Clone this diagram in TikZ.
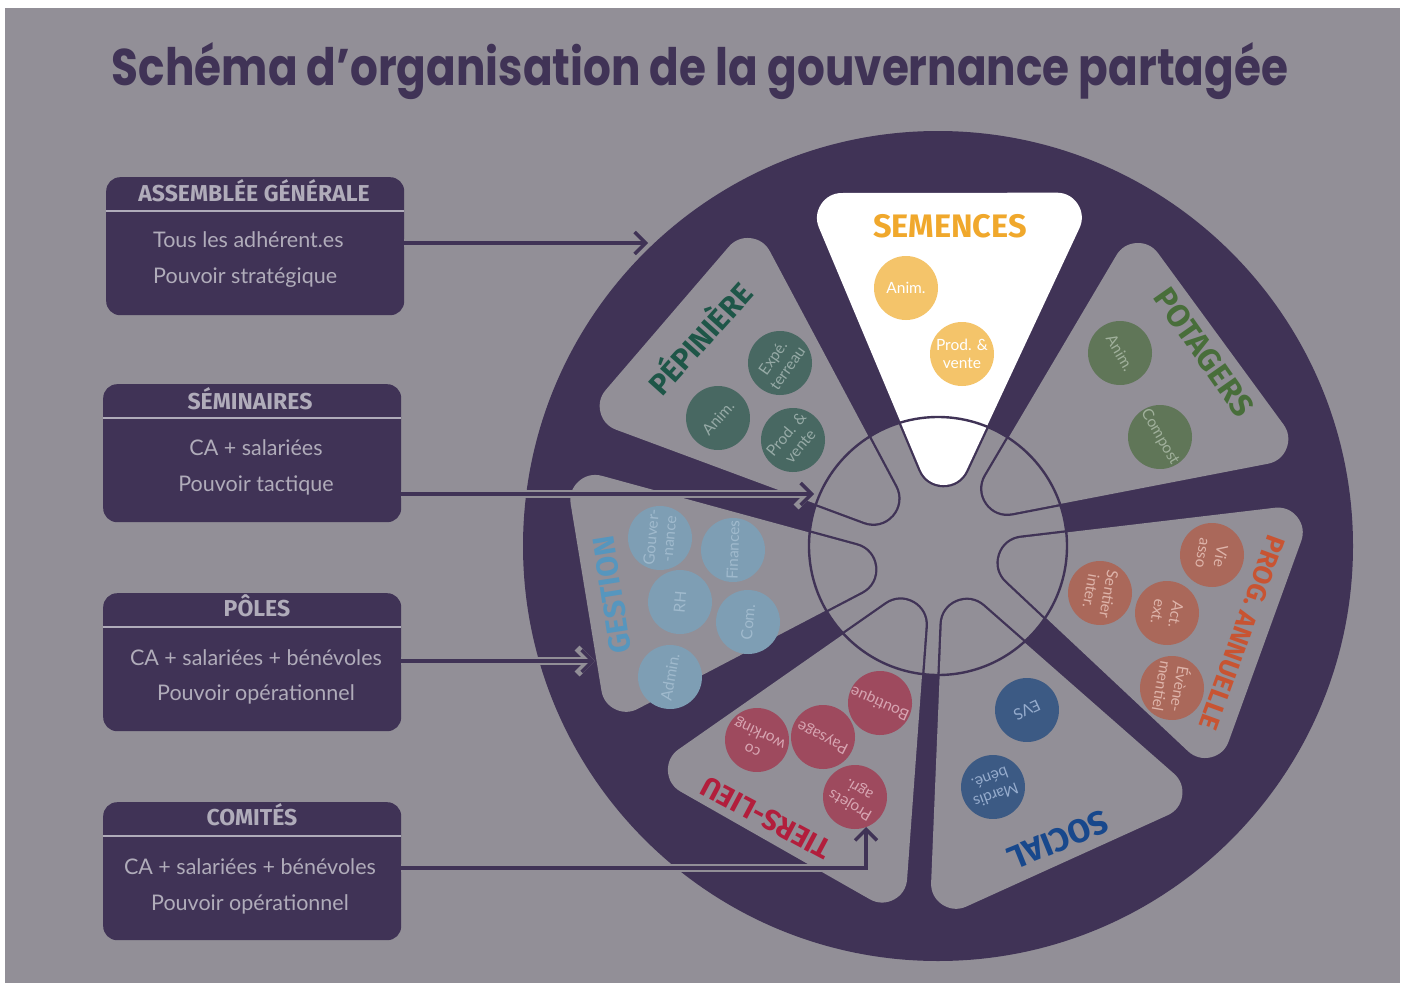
\documentclass[tikz,border=0pt]{standalone}
\usepackage{fontspec}
\usepackage{graphicx}
\usetikzlibrary{calc,arrows.meta}
\newfontfamily\titlefont{Poppins}
\newfontfamily\segfont{Fira Sans}
\newfontfamily\boxfont{Lato}
\definecolor{bggrey}{RGB}{146,143,151}
\definecolor{darkp}{RGB}{64,51,86}
\definecolor{boxtxt}{RGB}{176,172,186}
\definecolor{semT}{RGB}{240,168,44}
\definecolor{semB}{RGB}{244,196,106}
\definecolor{pepT}{RGB}{30,86,72}
\definecolor{pepB}{RGB}{72,104,98}
\definecolor{pepX}{RGB}{150,170,166}
\definecolor{potT}{RGB}{72,110,58}
\definecolor{potB}{RGB}{96,118,88}
\definecolor{potX}{RGB}{160,176,155}
\definecolor{prgT}{RGB}{200,84,50}
\definecolor{prgB}{RGB}{170,104,90}
\definecolor{prgX}{RGB}{222,180,170}
\definecolor{socT}{RGB}{24,72,140}
\definecolor{socB}{RGB}{60,90,132}
\definecolor{socX}{RGB}{150,172,205}
\definecolor{tieT}{RGB}{178,30,60}
\definecolor{tieB}{RGB}{158,74,94}
\definecolor{tieX}{RGB}{215,165,178}
\definecolor{gesT}{RGB}{86,150,190}
\definecolor{gesB}{RGB}{126,158,180}
\definecolor{gesX}{RGB}{160,186,205}
\begin{document}
\begin{tikzpicture}[x=1pt,y=-1pt,
  bub/.style={circle, minimum size=64pt, inner sep=0pt, align=center, font=\boxfont\fontsize{15.5}{18}\selectfont},
  segtitle/.style={inner sep=0pt, font=\segfont\bfseries\fontsize{34}{34}\selectfont},
  govbox/.style={fill=darkp, rounded corners=14pt, minimum width=298pt, minimum height=138pt, anchor=north west, inner sep=0pt},
  boxtitle/.style={text=boxtxt, font=\segfont\bfseries\fontsize{23}{23}\selectfont, anchor=base, inner sep=0pt},
  boxline/.style={text=boxtxt, font=\boxfont\fontsize{21.5}{21.5}\selectfont, anchor=base, inner sep=0pt},
  sepline/.style={draw=boxtxt, line width=1.8pt},
  conn/.style={draw=darkp, line width=3.4pt, -{Straight Barb[length=11pt,width=22pt,line width=3.4pt]},
    preaction={draw=bggrey, line width=8pt, -{Straight Barb[length=13pt,width=26pt,line width=7pt]}}},
]
\useasboundingbox (0,0) rectangle (1406,985);
\fill[white] (0,0) rectangle (1406,985);
\fill[bggrey] (5,8) rectangle (1400,983);

% title
\node[anchor=base, inner sep=0pt, text=darkp] (title) at (700,85)
  {\resizebox{1176pt}{43pt}{\titlefont\bfseries Schéma d’organisation de la gouvernance partagée}};

% boxes
\node[govbox] (b1) at (106,177) {};
\node[govbox] (b2) at (103,384) {};
\node[govbox] (b3) at (103,593) {};
\node[govbox] (b4) at (103,802) {};
\foreach \b in {b1,b2,b3,b4}
  \draw[sepline] ($(\b.north west)+(0,34)$) -- ($(\b.north east)+(0,34)$);

\node[boxtitle] (b1t) at (254,201) {ASSEMBLÉE GÉNÉRALE};
\node[boxline, anchor=base west] (b1a) at (153,247) {Tous les adhérent.es};
\node[boxline, anchor=base west] (b1b) at (153,283) {Pouvoir stratégique};

\node[boxtitle] (b2t) at (250,409) {SÉMINAIRES};
\node[boxline] (b2a) at (256,455) {CA + salariées};
\node[boxline] (b2b) at (256,491) {Pouvoir tactique};

\node[boxtitle] (b3t) at (257,616) {PÔLES};
\node[boxline] (b3a) at (256,665) {CA + salariées + bénévoles};
\node[boxline] (b3b) at (256,700) {Pouvoir opérationnel};

\node[boxtitle] (b4t) at (252,825) {COMITÉS};
\node[boxline] (b4a) at (250,874) {CA + salariées + bénévoles};
\node[boxline] (b4b) at (250,910) {Pouvoir opérationnel};

% wheel
\coordinate (H) at (938,546);
\fill[darkp] (H) circle[radius=415];
\fill[bggrey] (H) circle[radius=129];

\foreach \n/\ax/\ay/\bx/\by/\tx/\ty in {
  sem/822/203/1077/203/943/485,
  pep/748/238/600/410/892/515,
  pot/1138/243/1287/447/987/503,
  prg/1298/518/1212/757/1000/555,
  soc/1182/797/943/905/957/602,
  tie/893/900/668/772/913/603,
  ges/577/483/613/708/875/567}{
  \coordinate (\n-g) at ({(\ax+\bx+\tx)/3},{(\ay+\by+\ty)/3});
  \coordinate (\n-a) at ($(\ax,\ay)!25pt!(\n-g)$);
  \coordinate (\n-b) at ($(\bx,\by)!25pt!(\n-g)$);
  \coordinate (\n-t) at ($(\tx,\ty)!25pt!(\n-g)$);
}
\foreach \n in {sem,pep,pot,prg,soc,tie,ges}
  \filldraw[darkp, line width=54.6pt, line join=round] (\n-a) -- (\n-b) -- (\n-t) -- cycle;
\foreach \n/\c in {sem/white,pep/bggrey,pot/bggrey,prg/bggrey,soc/bggrey,tie/bggrey,ges/bggrey}
  \filldraw[draw=\c, fill=\c, line width=50pt, line join=round] (\n-a) -- (\n-b) -- (\n-t) -- cycle;
\draw[darkp, line width=2.4pt] (H) circle[radius=129];

% segment titles
\node[segtitle, text=semT] (semT) at (950,226) {\resizebox{154pt}{!}{SEMENCES}};
\node[segtitle, text=pepT, rotate=48] (pepT) at (698,337) {\resizebox{138pt}{!}{PÉPINIÈRE}};
\node[segtitle, text=potT, rotate=-55] (potT) at (1204,352) {\resizebox{148pt}{!}{POTAGERS}};
\node[segtitle, text=prgT, rotate=-110] (prgT) at (1242,633) {\resizebox{205pt}{!}{PROG. ANNUELLE}};
\node[segtitle, text=socT, rotate=202] (socT) at (1058,840) {\resizebox{106pt}{!}{SOCIAL}};
\node[segtitle, text=tieT, rotate=152] (tieT) at (766,818) {\resizebox{142pt}{!}{TIERS-LIEU}};
\node[segtitle, text=gesT, rotate=99] (gesT) at (612,595) {\resizebox{118pt}{!}{GESTION}};

% bubbles
\node[bub, fill=semB, text=white] (sem1) at (906,288) {Anim.};
\node[bub, fill=semB, text=white] (sem2) at (962,354) {Prod. \&\\vente};

\node[bub, fill=pepB, text=pepX, rotate=48] (pep1) at (718,418) {Anim.};
\node[bub, fill=pepB, text=pepX, rotate=55] (pep2) at (780,363) {Expé.\\terreau};
\node[bub, fill=pepB, text=pepX, rotate=50] (pep3) at (793,440) {Prod. \&\\vente};

\node[bub, fill=potB, text=potX, rotate=-60] (pot1) at (1120,353) {Anim.};
\node[bub, fill=potB, text=potX, rotate=-60] (pot2) at (1160,437) {Compost};

\node[bub, fill=prgB, text=prgX, rotate=-100] (prg1) at (1212,555) {Vie\\asso};
\node[bub, fill=prgB, text=prgX, rotate=-100] (prg2) at (1100,593) {Sentier\\inter.};
\node[bub, fill=prgB, text=prgX, rotate=-100] (prg3) at (1167,613) {Act.\\ext.};
\node[bub, fill=prgB, text=prgX, rotate=-100] (prg4) at (1172,688) {Évène-\\mentiel};

\node[bub, fill=socB, text=socX, rotate=205] (soc1) at (1027,710) {EVS};
\node[bub, fill=socB, text=socX, rotate=200] (soc2) at (993,787) {Mardis\\béné.};

\node[bub, fill=tieB, text=tieX, rotate=155] (tie1) at (757,740) {co\\working};
\node[bub, fill=tieB, text=tieX, rotate=153] (tie2) at (823,737) {Paysage};
\node[bub, fill=tieB, text=tieX, rotate=156] (tie3) at (880,703) {Boutique};
\node[bub, fill=tieB, text=tieX, rotate=150] (tie4) at (855,797) {Projets\\agri.};

\node[bub, fill=gesB, text=gesX, rotate=85] (ges1) at (660,538) {Gouver-\\-nance};
\node[bub, fill=gesB, text=gesX, rotate=88] (ges2) at (733,550) {Finances};
\node[bub, fill=gesB, text=gesX, rotate=85] (ges3) at (680,602) {RH};
\node[bub, fill=gesB, text=gesX, rotate=85] (ges4) at (748,622) {Com.};
\node[bub, fill=gesB, text=gesX, rotate=80] (ges5) at (670,677) {Admin.};

% connectors
\coordinate (e1) at (648,243);
\coordinate (e2) at (814,494);
\coordinate (e3) at (595,661);
\coordinate (k4) at (866,868);
\coordinate (e4) at (866,827);
\draw[conn] (b1.east |- e1) -- (e1);
\draw[conn] (b2.east |- e2) -- (e2);
\draw[conn] (b3.east |- e3) -- (e3);
\draw[conn] (b4.east |- k4) -- (k4) -- (e4);
\end{tikzpicture}
\end{document}
